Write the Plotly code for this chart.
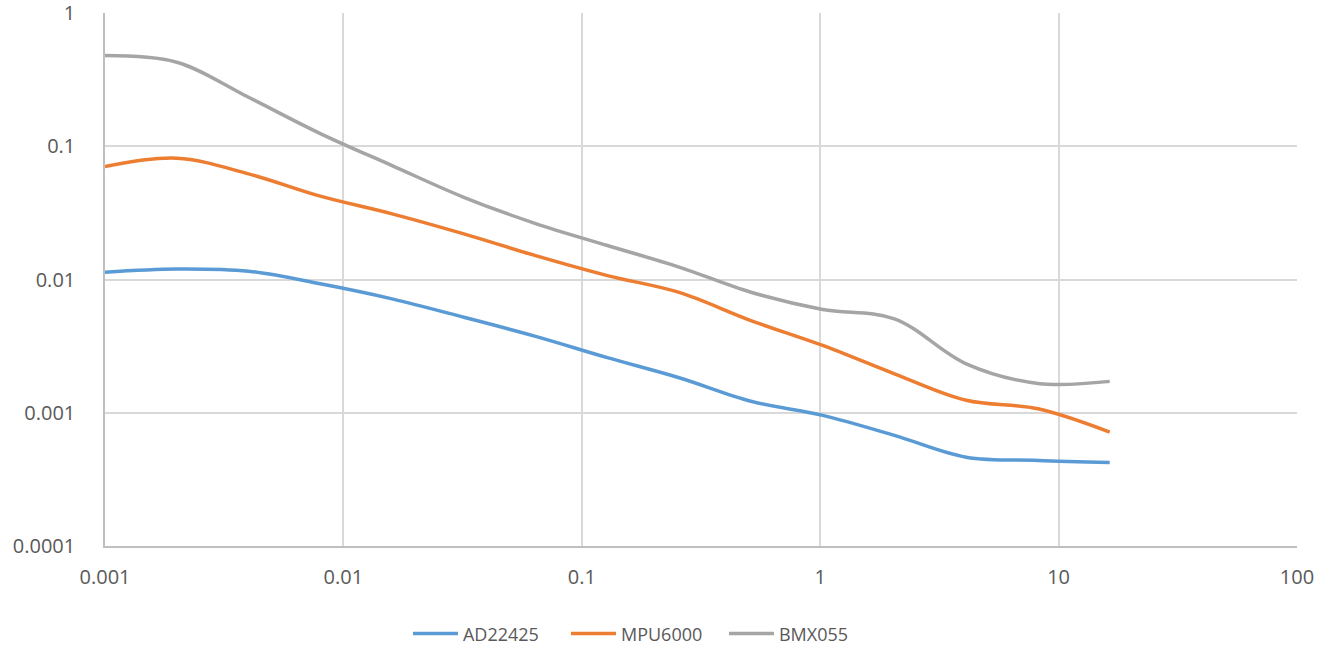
import plotly.graph_objects as go

tau = [0.001, 0.002, 0.004, 0.008, 0.016, 0.032, 0.064, 0.128, 0.256,
       0.512, 1.024, 2.048, 4.096, 8.192, 16.384]
ad22425 = [0.01135, 0.0120, 0.01154, 0.00929, 0.00716, 0.00521, 0.00374,
           0.00259, 0.00183, 0.00122, 0.000955, 0.000676, 0.000464,
           0.000439, 0.000424]
mpu6000 = [0.0705, 0.0813, 0.0621, 0.0422, 0.0311, 0.0220, 0.0151, 0.0107,
           0.00800, 0.00492, 0.00320, 0.00196, 0.00124, 0.00107, 0.000715]
bmx055 = [0.479, 0.427, 0.233, 0.1245, 0.0716, 0.0414, 0.0263, 0.0180,
          0.0124, 0.00803, 0.00596, 0.00507, 0.00233, 0.00166, 0.00172]

x_ticks = [0.001, 0.01, 0.1, 1, 10, 100]
x_labels = ["0.001", "0.01", "0.1", "1", "10", "100"]
y_ticks = [0.0001, 0.001, 0.01, 0.1, 1]
y_labels = ["0.0001", "0.001", "0.01", "0.1", "1"]

series = [("AD22425", ad22425, "#5B9BD5"),
          ("MPU6000", mpu6000, "#ED7D31"),
          ("BMX055", bmx055, "#A5A5A5")]

fig = go.Figure()
for name, vals, col in series:
    fig.add_trace(go.Scatter(x=tau, y=vals, name=name, mode="lines",
                             line=dict(color=col, width=3.5, shape="spline",
                                       smoothing=1.0)))

font = dict(family="Open Sans, Liberation Sans, Arial, sans-serif", size=20, color="#595959")
legend_font = dict(family="Open Sans, Liberation Sans, Arial, sans-serif", size=18, color="#595959")
fig.update_layout(
    width=1318, height=649,
    margin=dict(l=105, r=21, t=13, b=103, autoexpand=False),
    paper_bgcolor="white", plot_bgcolor="white",
    font=font,
    showlegend=True,
    legend=dict(orientation="h", x=0.453, xanchor="center", y=-0.13,
                yanchor="top", font=legend_font, itemwidth=45,
                entrywidth=98),
)
fig.update_xaxes(type="log", range=[-3, 2], tickvals=x_ticks, ticktext=x_labels,
                 showgrid=True, gridcolor="#D9D9D9", gridwidth=1.5,
                 showline=True, linecolor="#BFBFBF", linewidth=1.5,
                 ticks="", zeroline=False, ticklabelstandoff=12, automargin=False,
                 ticklabeloverflow="allow")
fig.update_yaxes(type="log", range=[-4, 0], tickvals=y_ticks, ticktext=y_labels,
                 showgrid=True, gridcolor="#D9D9D9", gridwidth=1.5,
                 showline=True, linecolor="#BFBFBF", linewidth=1.5,
                 ticks="", zeroline=False, ticklabelstandoff=24, automargin=False,
                 ticklabeloverflow="allow")

fig.write_html("out.html", config={"displayModeBar": False},
               post_script="document.body.style.margin='0';document.body.style.overflow='hidden';")
